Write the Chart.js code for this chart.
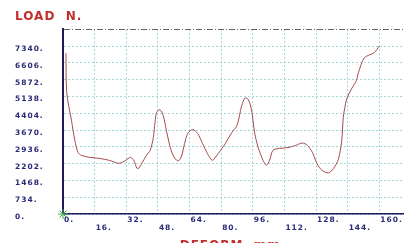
<!DOCTYPE html>
<html>
<head>
<meta charset="utf-8">
<script src="https://cdn.jsdelivr.net/npm/chart.js@4.4.1/dist/chart.umd.min.js"></script>
<style>
    body { margin: 0; background: #fff; }
    canvas { display: block; }
</style>
</head>
<body>
<canvas id="loadChart" width="409" height="243"></canvas>
<script>
// deformation (mm) and load (N)
const deformMm = [1.5, 1.9, 4.3, 6.0, 7.6, 9.3, 13.4, 18.4, 23.4, 28.3, 31.7, 34.1, 35.8, 37.4, 38.3, 39.9,
    42.2, 44.1, 45.7, 46.6, 47.4, 49.0, 50.7, 52.3, 54.0, 55.7, 58.1, 59.8, 61.5, 63.1, 65.6, 68.1,
    70.6, 73.0, 75.5, 77.2, 79.7, 82.1, 85.5, 88.0, 90.4, 92.1, 93.8, 95.4, 97.0, 98.7, 101.2, 102.9,
    104.5, 106.2, 109.5, 114.4, 117.8, 121.1, 123.6, 126.1, 128.5, 131.0, 134.3, 136.8, 139.3, 141.0,
    141.8, 142.6, 143.5, 145.9, 148.4, 149.2, 150.9, 152.5, 155.0, 157.5, 160.0];
const loadN = [7030, 5300, 4080, 3210, 2690, 2560, 2475, 2430, 2345, 2215, 2345, 2475, 2345, 2000, 2000, 2215,
    2560, 2780, 3340, 4040, 4440, 4560, 4300, 3650, 3000, 2560, 2315, 2490, 3080, 3520, 3690, 3520,
    3080, 2650, 2345, 2490, 2780, 3080, 3570, 3865, 4730, 5070, 4990, 4520, 3520, 2920, 2345, 2130,
    2345, 2780, 2865, 2910, 3000, 3100, 3000, 2700, 2200, 1910, 1795, 1985, 2390, 3210,
    4230, 4660, 5025, 5460, 5820, 6110, 6545, 6830, 6950, 7050, 7340];

const xTicks = [0, 16, 32, 48, 64, 80, 96, 112, 128, 144, 160];
const yTicks = [0, 734, 1468, 2202, 2936, 3670, 4404, 5138, 5872, 6606, 7340];
const yTop = 8074;

const RED = "#c0302c";
const NAVY = "#2a2a78";
const GRID = "#9fd6d6";

const points = deformMm.map((x, i) => ({ x: x, y: loadN[i] }));

// the picture has spaced-out lettering
const spacingPlugin = {
    id: "spacing",
    beforeDraw: function (chart) {
        chart.ctx.letterSpacing = "1px";
    }
};

Chart.defaults.font.family = "'DejaVu Sans', sans-serif";

new Chart(document.querySelector("#loadChart"), {
    type: "line",
    data: {
        datasets: [
            {
                data: points,
                borderColor: "#a44a4a",
                borderWidth: 1,
                pointRadius: 0,
                tension: 0.3
            },
            {
                data: [{ x: 0, y: 0 }],
                showLine: false,
                pointStyle: "star",
                pointRadius: 5,
                borderColor: "#3fa84a",
                borderWidth: 1,
                clip: false
            }
        ]
    },
    options: {
        responsive: false,
        animation: false,
        layout: { padding: { left: 15, top: 0, right: 0, bottom: 0 } },
        plugins: {
            legend: { display: false },
            tooltip: { enabled: false },
            title: {
                display: true,
                text: "LOAD  N.",
                align: "start",
                color: RED,
                font: { size: 12, weight: "bold", lineHeight: 1.1 },
                padding: { top: 10, bottom: 6 }
            }
        },
        scales: {
            x: {
                type: "linear",
                min: 0,
                max: 172,
                afterBuildTicks: function (scale) {
                    scale.ticks = xTicks.map(v => ({ value: v }));
                },
                afterFit: function (scale) {
                    scale.height = 29;
                },
                ticks: {
                    align: "start",
                    maxRotation: 0,
                    autoSkip: false,
                    padding: 1.5,
                    labelOffset: 1,
                    color: NAVY,
                    font: { size: 7.5, weight: "bold", lineHeight: 1.15 },
                    callback: function (value, index) {
                        return index % 2 === 0 ? value + "." : ["", value + "."];
                    }
                },
                grid: { color: GRID, drawTicks: false, lineWidth: 1 },
                border: { color: "#1c1c5c", width: 1.5, dash: [2, 2] },
                title: {
                    display: true,
                    text: "DEFORM  mm.",
                    color: RED,
                    font: { size: 12, weight: "bold", lineHeight: 1 },
                    padding: { top: 0, bottom: -9 }
                }
            },
            y: {
                min: 0,
                max: yTop,
                afterBuildTicks: function (scale) {
                    scale.ticks = yTicks.concat([yTop]).map(v => ({ value: v }));
                },
                afterFit: function (scale) {
                    scale.width = 48;
                },
                ticks: {
                    crossAlign: "far",
                    autoSkip: false,
                    labelOffset: 3,
                    color: NAVY,
                    font: { size: 7.5, weight: "bold" },
                    callback: function (value) {
                        return value === yTop ? "" : value + ".";
                    }
                },
                grid: {
                    color: ctx => ctx.tick && ctx.tick.value === yTop ? "#666" : GRID,
                    drawTicks: false,
                    lineWidth: 1
                },
                border: {
                    color: "#1c1c5c",
                    width: 2,
                    dash: ctx => ctx.tick && ctx.tick.value === yTop ? [6, 2, 1, 2] : [2, 2]
                }
            }
        }
    },
    plugins: [spacingPlugin]
});
</script>
</body>
</html>
